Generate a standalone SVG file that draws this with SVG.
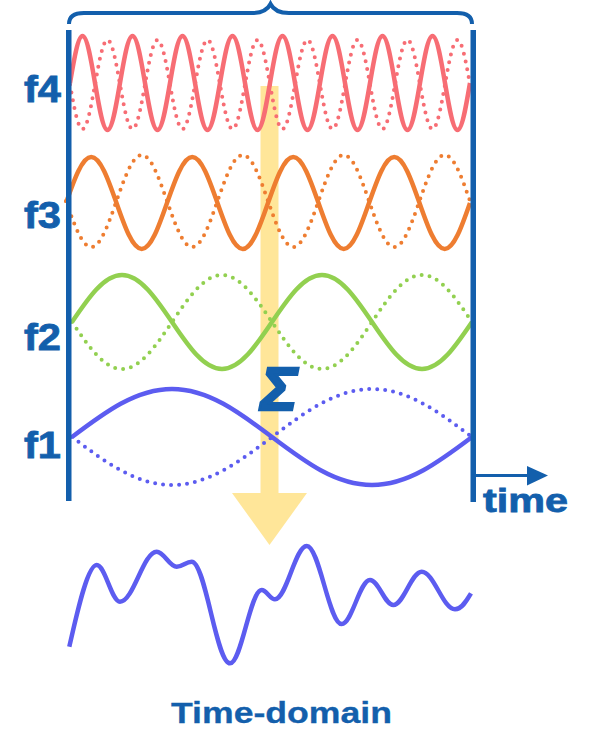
<svg xmlns="http://www.w3.org/2000/svg" width="597" height="753" viewBox="0 0 597 753">
<style>
.blue{fill:#135FAC}
.lbl{font-family:"Liberation Sans",Arial,sans-serif;font-weight:bold;fill:#135FAC;stroke:#135FAC;stroke-width:0.8}
.sol{fill:none;stroke-width:4.5;stroke-linejoin:round}
.dot{fill:none;stroke-width:4;stroke-linecap:round;stroke-dasharray:0 8}
.red{stroke:#F76D74}
.org{stroke:#EE7D31}
.grn{stroke:#92D050}
.pur{stroke:#5C5CF0}
</style>
<rect width="597" height="753" fill="#ffffff"/>
<g id="sum-arrow">
<rect x="260.5" y="86" width="18" height="408" fill="#FFE699"/>
<polygon points="232,493 307,493 269.5,545" fill="#FFE699"/>
</g>
<g id="wave-f4">
<path class="sol red" d="M70 83 c4.08 -24.08 7.98 -47 12.5 -47 s8.42 22.92 12.5 47 s7.98 47 12.5 47 s8.42 -22.92 12.5 -47 s7.98 -47 12.5 -47 s8.42 22.92 12.5 47 s7.98 47 12.5 47 s8.42 -22.92 12.5 -47 s7.98 -47 12.5 -47 s8.42 22.92 12.5 47 s7.98 47 12.5 47 s8.42 -22.92 12.5 -47 s7.98 -47 12.5 -47 s8.42 22.92 12.5 47 s7.98 47 12.5 47 s8.42 -22.92 12.5 -47 s7.98 -47 12.5 -47 s8.42 22.92 12.5 47 s7.98 47 12.5 47 s8.42 -22.92 12.5 -47 s7.98 -47 12.5 -47 s8.42 22.92 12.5 47 s7.98 47 12.5 47 s8.42 -22.92 12.5 -47 s7.98 -47 12.5 -47 s8.42 22.92 12.5 47 s7.98 47 12.5 47 s8.42 -22.92 12.5 -47 s7.98 -47 12.5 -47 s8.42 22.92 12.5 47 s7.98 47 12.5 47 s8.42 -22.92 12.5 -47"/>
<path class="dot red" d="M70 84.5 c4.08 22.8 7.98 44.5 12.5 44.5 s8.42 -21.7 12.5 -44.5 s7.98 -44.5 12.5 -44.5 s8.42 21.7 12.5 44.5 s7.98 44.5 12.5 44.5 s8.42 -21.7 12.5 -44.5 s7.98 -44.5 12.5 -44.5 s8.42 21.7 12.5 44.5 s7.98 44.5 12.5 44.5 s8.42 -21.7 12.5 -44.5 s7.98 -44.5 12.5 -44.5 s8.42 21.7 12.5 44.5 s7.98 44.5 12.5 44.5 s8.42 -21.7 12.5 -44.5 s7.98 -44.5 12.5 -44.5 s8.42 21.7 12.5 44.5 s7.98 44.5 12.5 44.5 s8.42 -21.7 12.5 -44.5 s7.98 -44.5 12.5 -44.5 s8.42 21.7 12.5 44.5 s7.98 44.5 12.5 44.5 s8.42 -21.7 12.5 -44.5 s7.98 -44.5 12.5 -44.5 s8.42 21.7 12.5 44.5 s7.98 44.5 12.5 44.5 s8.42 -21.7 12.5 -44.5 s7.98 -44.5 12.5 -44.5 s8.42 21.7 12.5 44.5 s7.98 44.5 12.5 44.5 s8.42 -21.7 12.5 -44.5 s7.98 -44.5 12.5 -44.5 s8.42 21.7 12.5 44.5"/>
</g>
<g id="wave-f3">
<path class="sol org" d="M66 203 c8.23 -23.57 16.11 -46 25.25 -46 s17.02 22.43 25.25 46 s16.11 46 25.25 46 s17.02 -22.43 25.25 -46 s16.11 -46 25.25 -46 s17.02 22.43 25.25 46 s16.11 46 25.25 46 s17.02 -22.43 25.25 -46 s16.11 -46 25.25 -46 s17.02 22.43 25.25 46 s16.11 46 25.25 46 s17.02 -22.43 25.25 -46 s16.11 -46 25.25 -46 s17.02 22.43 25.25 46 s16.11 46 25.25 46 s17.02 -22.43 25.25 -46"/>
<path class="dot org" d="M66 201 c8.23 23.57 16.11 46 25.25 46 s17.02 -22.43 25.25 -46 s16.11 -46 25.25 -46 s17.02 22.43 25.25 46 s16.11 46 25.25 46 s17.02 -22.43 25.25 -46 s16.11 -46 25.25 -46 s17.02 22.43 25.25 46 s16.11 46 25.25 46 s17.02 -22.43 25.25 -46 s16.11 -46 25.25 -46 s17.02 22.43 25.25 46 s16.11 46 25.25 46 s17.02 -22.43 25.25 -46 s16.11 -46 25.25 -46 s17.02 22.43 25.25 46"/>
</g>
<g id="wave-f2">
<path class="sol grn" d="M72 322 c16.31 -24.08 31.9 -47 50 -47 s33.7 22.92 50 47 s31.9 47 50 47 s33.7 -22.92 50 -47 s31.9 -47 50 -47 s33.7 22.92 50 47 s31.9 47 50 47 s33.7 -22.92 50 -47"/>
<path class="dot grn" d="M72 322 c16.31 24.08 31.9 47 50 47 s33.7 -22.92 50 -47 s31.9 -47 50 -47 s33.7 22.92 50 47 s31.9 47 50 47 s33.7 -22.92 50 -47 s31.9 -47 50 -47 s33.7 22.92 50 47"/>
</g>
<g id="wave-f1">
<path class="sol pur" d="M72 437 c32.61 -24.59 63.81 -48 100 -48 s67.39 23.41 100 48 s63.81 48 100 48 s67.39 -23.41 100 -48"/>
<path class="dot pur" d="M72 437 c32.61 24.59 63.81 48 100 48 s67.39 -23.41 100 -48 s63.81 -48 100 -48 s67.39 23.41 100 48"/>
</g>
<g id="frame">
<rect class="blue" x="66" y="30" width="5.5" height="471"/>
<rect class="blue" x="470.5" y="30" width="5.5" height="472"/>
<path d="M69 24 Q69 13 84 13 L252 13 Q266 13 270.5 4 Q275 13 289 13 L457 13 Q472 13 472 24" fill="none" stroke="#135FAC" stroke-width="4"/>
</g>
<g id="labels">
<text class="lbl" x="24" y="102" font-size="36" textLength="37" lengthAdjust="spacingAndGlyphs">f4</text>
<text class="lbl" x="24" y="228" font-size="36" textLength="37" lengthAdjust="spacingAndGlyphs">f3</text>
<text class="lbl" x="24" y="350" font-size="36" textLength="37" lengthAdjust="spacingAndGlyphs">f2</text>
<text class="lbl" x="24" y="458" font-size="36" textLength="37" lengthAdjust="spacingAndGlyphs">f1</text>
</g>
<g id="sigma">
<text class="lbl" x="279" y="409.5" font-size="62" font-style="italic" text-anchor="middle" style="stroke-width:2.5">Σ</text>
</g>
<g id="time-axis">
<line x1="476" y1="475.5" x2="529" y2="475.5" stroke="#135FAC" stroke-width="3"/>
<polygon class="blue" points="527,466 548,475.5 527,485.5"/>
<text class="lbl" x="483" y="512" font-size="33" textLength="85" lengthAdjust="spacingAndGlyphs">time</text>
</g>
<g id="result-wave">
<path class="sol pur" d="M69.3 646.7 C76 618 87 565 96.7 565 C105.2 565 111.5 601.7 120 601.7 C133.4 601.7 143.3 551.7 156.7 551.7 C164 551.7 169.4 566.7 176.7 566.7 C182.2 566.7 186.2 561.7 191.7 561.7 C205.6 561.7 216.1 663.3 230 663.3 C241.5 663.3 250.2 590 261.7 590 C266.5 590 270.2 599.3 275 599.3 C286.5 599.3 295.2 546 306.7 546 C319.4 546 329 624 341.7 624 C352 624 359.7 580 370 580 C378.5 580 384.8 605 393.3 605 C403.6 605 411.4 571.7 421.7 571.7 C433.8 571.7 442.9 609.3 455 609.3 C462 609.3 467 600 471 593.3"/>
</g>
<g id="caption">
<text class="lbl" x="171" y="723" font-size="30" textLength="221" lengthAdjust="spacingAndGlyphs" style="stroke-width:0.3">Time-domain</text>
</g>
</svg>
